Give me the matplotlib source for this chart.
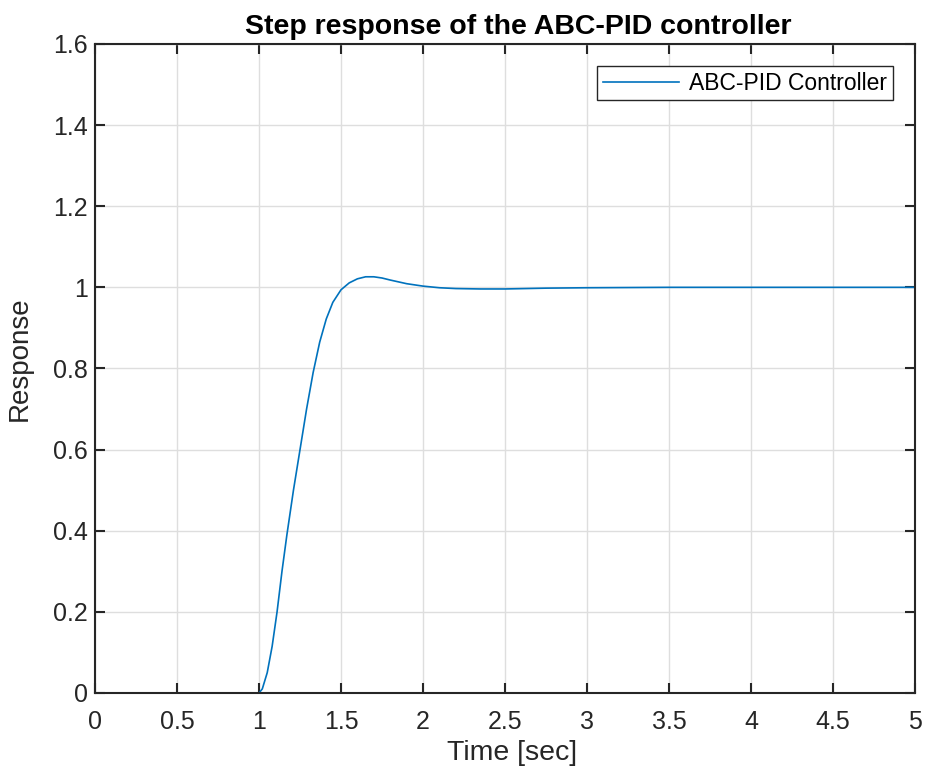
import matplotlib
matplotlib.use("Agg")
import matplotlib.pyplot as plt

# Step response
time_s = [0.0, 1.0, 1.02, 1.05, 1.08, 1.11, 1.14, 1.17, 1.21, 1.25, 1.29, 1.33,
          1.37, 1.41, 1.45, 1.50, 1.55, 1.60, 1.65, 1.70, 1.75, 1.80, 1.90,
          2.00, 2.10, 2.20, 2.35, 2.50, 2.75, 3.00, 3.50, 4.00, 5.00]
response = [0.0, 0.0, 0.01, 0.05, 0.115, 0.20, 0.30, 0.39, 0.50, 0.60, 0.70, 0.79,
            0.865, 0.922, 0.963, 0.994, 1.011, 1.021, 1.026, 1.026, 1.023, 1.018, 1.009,
            1.003, 0.999, 0.997, 0.996, 0.996, 0.998, 0.999, 1.0, 1.0, 1.0]

xticks = [0, 0.5, 1, 1.5, 2, 2.5, 3, 3.5, 4, 4.5, 5]
xticklabels = ["0", "0.5", "1", "1.5", "2", "2.5", "3", "3.5", "4", "4.5", "5"]
yticks = [0, 0.2, 0.4, 0.6, 0.8, 1.0, 1.2, 1.4, 1.6]
yticklabels = ["0", "0.2", "0.4", "0.6", "0.8", "1", "1.2", "1.4", "1.6"]

plt.rcParams['font.family'] = ['Liberation Sans', 'DejaVu Sans']

fig = plt.figure(figsize=(9.28, 7.74), dpi=100)
ax = fig.add_axes([0.1024, 0.1047, 0.8836, 0.8385])

ax.plot(time_s, response, color='#0072BD', lw=1.2, label='ABC-PID Controller')

ax.set_xlim(0, 5)
ax.set_ylim(0, 1.6)
ax.set_xticks(xticks)
ax.set_xticklabels(xticklabels)
ax.set_yticks(yticks)
ax.set_yticklabels(yticklabels)

ax.grid(True, color='#dedede', lw=1.0)
ax.set_axisbelow(True)
for s in ax.spines.values():
    s.set_color('#262626')
    s.set_linewidth(1.5)
ax.tick_params(direction='in', length=7, width=1.5, color='#262626',
               top=True, right=True, labelsize=18, labelcolor='#262626')
ax.tick_params(axis='x', pad=12)
ax.tick_params(axis='y', pad=5)

ax.set_xlabel('Time [sec]', fontsize=20.5, color='#262626')
ax.xaxis.set_label_coords(0.5085, -0.0724)
ax.set_ylabel('Response', fontsize=20, color='#262626')
ax.yaxis.set_label_coords(-0.0756, 0.515)
ax.set_title('Step response of the ABC-PID controller', fontsize=20.5,
             fontweight='bold', pad=7, x=0.516)

leg = ax.legend(loc='upper right', bbox_to_anchor=(0.973, 0.966), borderaxespad=0,
                fontsize=16.5, fancybox=False, framealpha=1, edgecolor='#262626',
                handlelength=3.3, borderpad=0.25, handletextpad=0.45)
leg.get_frame().set_linewidth(1.0)

fig.savefig('out.png', dpi=100)
